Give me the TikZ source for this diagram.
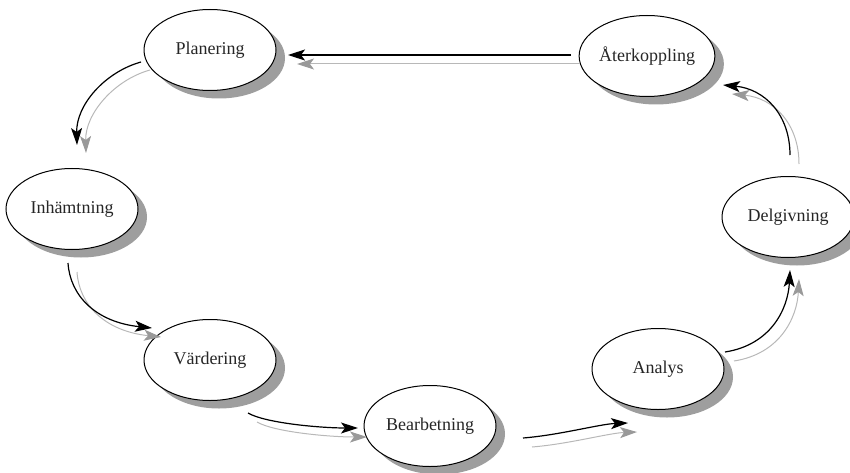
\documentclass[tikz,border=0pt]{standalone}
\usepackage{fontspec}
\setmainfont{Liberation Serif}
\usetikzlibrary{shapes.geometric,arrows.meta,shadows,calc}

\begin{document}
\begin{tikzpicture}[x=1pt,y=-1pt,
  phase/.style={ellipse, draw=black, line width=1pt, fill=white,
    minimum width=132pt, minimum height=81pt, inner sep=0pt,
    text=black!85, font=\fontsize{18}{21}\selectfont,
    drop shadow={shadow xshift=9pt, shadow yshift=-8pt, fill=black!38, opacity=1}},
  flow/.style={line width=1.2pt, draw=black,
    -{Stealth[length=17pt, width=11pt, inset=4pt]}},
  flowshade/.style={line width=1pt, draw=black!28,
    -{Stealth[length=17pt, width=11pt, inset=4pt, color=black!40, fill=black!40]}}
]
\useasboundingbox (0,0) rectangle (850,473);

% the seven phases of the cycle
\node[phase] (plan)  at (210,50)  {Planering};
\node[phase] (inh)   at (72,209)  {Inhämtning};
\node[phase] (vard)  at (210,360) {Värdering};
\node[phase] (bearb) at (430,426) {Bearbetning};
\node[phase] (anal)  at (658,369) {Analys};
\node[phase] (delg)  at (788,217) {Delgivning};
\node[phase] (ater)  at (647,56)  {Återkoppling};

% shaded copies of the arrows, offset down and to the right
\draw[flowshade] ($(ater)+(-67,8)$) -- ($(plan)+(87,14)$);
\draw[flowshade] ($(plan)+(-60,20)$) .. controls ($(plan)+(-96,30)$) and ($(inh)+(13,-95)$) .. ($(inh)+(14,-56)$);
\draw[flowshade] ($(inh)+(5,63)$) .. controls ($(inh)+(7,95)$) and ($(vard)+(-106,-29)$) .. ($(vard)+(-49,-23)$);
\draw[flowshade] ($(vard)+(47,62)$) .. controls ($(vard)+(64,72)$) and ($(bearb)+(-101,11)$) .. ($(bearb)+(-63,11)$);
\draw[flowshade] ($(bearb)+(102,21)$) .. controls ($(bearb)+(139,18)$) and ($(anal)+(-49,64)$) .. ($(anal)+(-21,63)$);
\draw[flowshade] ($(anal)+(76,-8)$) .. controls ($(anal)+(121,-15)$) and ($(delg)+(9,102)$) .. ($(delg)+(11,62)$);
\draw[flowshade] ($(delg)+(11,-53)$) .. controls ($(delg)+(11,-93)$) and ($(ater)+(127,42)$) .. ($(ater)+(85,38)$);

% main arrows
\draw[flow] ($(ater)+(-76,-1)$) -- ($(plan)+(78,5)$);
\draw[flow] ($(plan)+(-69,12)$) .. controls ($(plan)+(-105,22)$) and ($(inh)+(4,-104)$) .. ($(inh)+(5,-64)$);
\draw[flow] ($(inh)+(-4,54)$) .. controls ($(inh)+(-2,86)$) and ($(vard)+(-115,-38)$) .. ($(vard)+(-58,-32)$);
\draw[flow] ($(vard)+(38,53)$) .. controls ($(vard)+(55,63)$) and ($(bearb)+(-110,2)$) .. ($(bearb)+(-72,2)$);
\draw[flow] ($(bearb)+(93,12)$) .. controls ($(bearb)+(130,9)$) and ($(anal)+(-58,55)$) .. ($(anal)+(-30,54)$);
\draw[flow] ($(anal)+(67,-17)$) .. controls ($(anal)+(112,-24)$) and ($(delg)+(0,93)$) .. ($(delg)+(2,53)$);
\draw[flow] ($(delg)+(2,-62)$) .. controls ($(delg)+(2,-102)$) and ($(ater)+(118,33)$) .. ($(ater)+(76,29)$);
\end{tikzpicture}
\end{document}
